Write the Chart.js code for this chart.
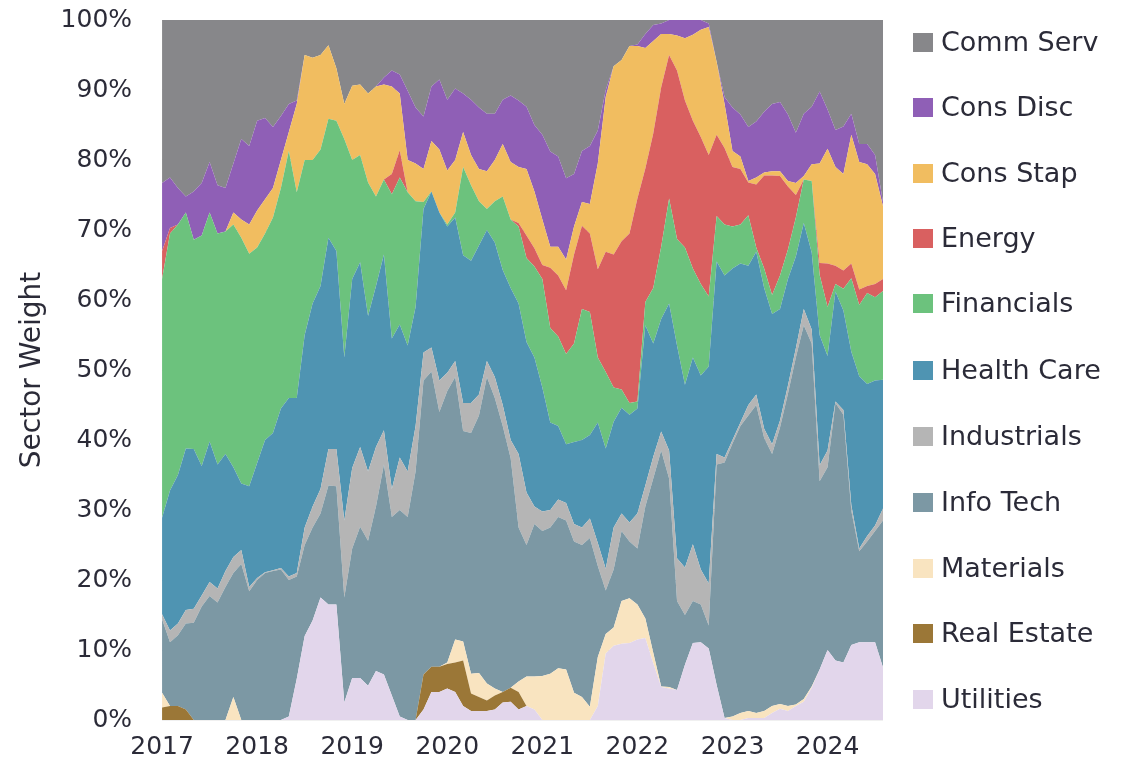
<!DOCTYPE html>
<html>
<head>
<meta charset="utf-8">
<script src="https://cdn.jsdelivr.net/npm/chart.js@4.4.1/dist/chart.umd.min.js"></script>
<style>
  html, body { margin: 0; padding: 0; background: #fff; }
  #wrap { position: relative; width: 1132px; height: 776px; }
  #legend { position: absolute; left: 913px; top: 0; font-family: "DejaVu Sans", sans-serif; font-size: 27px; color: #2b2b38; }
  .item { position: absolute; left: 0; height: 32px; line-height: 32px; display: flex; align-items: center; white-space: nowrap; }
  .sw { width: 20px; height: 19px; margin-right: 8px; flex: none; }
</style>
</head>
<body>
<div id="wrap">
  <canvas id="chart" width="1132" height="776"></canvas>
  <div id="legend"></div>
</div>
<script>
// --- Data (monthly, Jan 2017 .. Aug 2024, % weight) ---
const years = ['2017', '2018', '2019', '2020', '2021', '2022', '2023', '2024'];

const utilities = [0,0,0,0,0,0,0,0,0,0, 0,0,0,0,0,0,0.5,5.9,12,14.2, 17.5,16.5,16.5,2.5,6,6,4.9,7,6.5,3.5,
  0.5,0,0,1.5,4,4,4.5,4,2,1.3, 1.3,1.3,1.5,2.5,2.6,1.5,2,1.5,0,0, 0,0,0,0,0,2,9.5,10.6,10.9,11,
  11.5,11.7,8.1,4.7,4.5,4.3,7.9,11,11.1,10.2, 5,0.3,0,0,0.3,0.3,0.3,1,1.6,1.3, 2,2.6,4.6,7.2,10,8.5,8.2,10.7,11.1,11.1, 11.1,7.5];
const realEstate = [1.8,2,2,1.5,0,0,0,0,0,0, 0,0,0,0,0,0,0,0,0,0, 0,0,0,0,0,0,0,0,0,0,
  0,0,0,5,3.6,3.6,3.5,4.2,6.5,2.5, 2,1.5,2,1.5,2,2.5,0,0,0,0, 0,0,0,0,0,0,0,0,0,0,
  0,0,0,0,0,0,0,0,0,0, 0,0,0,0,0,0,0,0,0,0, 0,0,0,0,0,0,0,0,0,0, 0,0];
const materials = [2.1,0,0,0,0,0,0,0,0,3.3, 0,0,0,0,0,0,0,0,0,0, 0,0,0,0,0,0,0,0,0,0,
  0,0,0,0,0,0,0.2,3.3,2.7,2.8, 3.4,2.4,1,0,0,1.5,4.2,4.7,6.3,6.6, 7.4,7.2,3.9,3.3,1.9,7,2.8,2.6,6.1,6.4,
  5,2.8,1.5,0.1,0.2,0,0,0,0,0, 0,0,0.5,1,1,0.7,1,1,0.7,0.7, 0.2,0.4,0.2,0,0,0,0,0,0,0, 0,0];
const infoTech = [10.5,9.1,10.1,12.3,13.9,16.2,17.7,16.8,19,17.7, 22.3,18.4,20,21,21.3,21.5,19.5,14.6,13,13.3,
  12,17,16.9,15,18.5,21.6,20.7,23.5,30,25.5, 29.5,29,35.5,42,42.2,36.4,38.8,37.5,30.1,34.4,
  36.8,43.8,41.5,38,32.8,22,18.8,21.8,20.7,20.9, 21.6,21.3,21.6,21.7,24.1,13,6.2,8.3,10,8.1,
  8,16,24.9,33.7,29.8,12.7,7.1,6,5.4,3.3, 31.5,36.5,39,41,42.2,44,39,36,39.5,44.6,
  49.6,53.4,49,26.9,26.1,36.8,35.4,19.2,13,14.4, 15.9,21];
const industrials = [0.7,1.7,1.7,1.9,2,1.6,2,2,2.3,2.3, 2,0.6,0.3,0.1,0.1,0.2,0.5,0.5,2.5,3,
  3.5,5.2,5.3,11,11.5,11.4,9.9,8.5,4.9,4, 7.5,6.5,6.5,4,3.4,4.5,2.6,2.3,4,4.3,
  3,2.3,3,3,2.6,10.5,7.5,2.5,2.8,2.5, 2.5,2.5,2.5,2.5,2.8,3.3,3.1,6,2.5,2.7,
  5,3,3.1,2.7,4,6.1,6.8,8.1,5,6, 1.5,0.7,0.5,0.5,1.5,1.5,1.3,1.4,1,1.2,
  1.3,2.3,2,2.3,2.4,0.2,0.7,0.8,0.4,0.8, 0.8,1.7];
const healthCare = [13.8,20,21.2,23.1,22.8,18.5,20.1,17.7,16.7,12.8, 9.5,14.4,16.4,18.9,19.6,22.8,25.5,25,27.5,29,
  29,30.2,28.3,23.3,27,26.4,22.2,23,25.1,21.5, 19,18,17,20.5,22.3,24,20.9,20.5,21.1,20.3,
  21.3,18.7,19.2,19.3,21.7,21.5,21.5,21.3,17.7,12.5, 10.5,8.4,11.7,12.5,11.9,17.2,17.2,15.1,15.1,15.4,
  15,22.9,16.2,16.1,21,30.4,26.1,26.7,27.7,31, 27.5,26,24.5,22.7,19.9,20.4,20.1,18.6,15.9,15.2,
  13.1,12.3,11,18.6,13.5,15.7,14.2,21.9,24.6,21.7, 20.7,18.4];
const financials = [34.1,36.7,35.8,33.7,29.9,32.9,32.7,33,31.8,34.7, 35.1,33.2,30.8,29.5,30.8,31.5,35.3,29.4,25,20.5,
  19.5,17,18.6,31.2,17,15.3,19.1,12.8,10.7,20.6, 21,21.9,15.1,1,0,0,0.3,0.7,12.6,10.8,
  6.3,3,5.9,10.5,9.8,11,12,13,15.5,13.5, 12.8,12.9,14.1,18.7,17.6,9.3,10.9,4.9,2.6,1.7,
  1,3.3,7.9,10.3,15,15.2,19.6,12.7,13.1,10, 6.5,7.3,6,5.6,7.2,0.6,2.8,2.7,4.8,4.2,
  5.6,6.2,10.2,8.6,7,1.1,3.1,10.5,10.2,13, 11.9,12.7];
const energy = [4,0.8,0,0,0,0,0,0,0,0, 0,0,0,0,0,0,0,0,0,0, 0,0,0,0,0,0,0,0,0,2.9,
  3.9,0,0,0,0,0,0,0,0,0, 0,0,0,0,0,0.5,3.2,2.6,2,8.6, 8.7,9.1,12.7,11.9,11.2,12.6,17.2,19,21.2,24.2,
  29,19.1,22.1,22.8,20.5,24.1,21,21.1,21,20.2, 11.6,10.9,8.5,7.9,4.7,9,13.3,17.1,14.2,9,
  3.2,0,0,1.7,6.2,2.6,2.6,2.1,2.2,1, 1.9,1.7];
const consStap = [0,0,0,0,0,0,0,0,0,1.7, 2.6,4.2,5.3,4.9,4.2,4,2.7,12.6,15,14.6,
  13.5,10.5,7.5,5,10.6,10.1,12.7,15.7,13.6,12.5, 8.1,4.6,5.4,4.7,7.2,9,7.7,7.5,5,4.3,
  4.6,5.4,5.9,7.5,8.2,8,9.5,8.1,6.5,3, 4.1,4.4,4,3.4,4.2,15.1,22.1,26.9,25.9,26.8,
  21.8,17.2,13.2,7.6,3,5,8.9,12.3,15.3,18.3, 10.4,6.3,2.3,1.8,0.2,1,0.4,0.6,0.7,0.8,
  1.7,0.5,2.4,14.2,16.4,14.1,13.8,18.4,18.2,17.4, 15.7,10.4];
const consDisc = [9.7,7.2,5.2,2.3,6.9,7.5,7.2,6.9,6.2,7, 11.5,11.2,12.8,11.6,8.7,6.3,4,0.5,0,0,
  0,0,0,0,0,0,0,0,1,2.3, 2.7,9.9,8,7.5,7.8,10,10.1,10.2,5.5,7.9,
  8.8,8.2,6.6,6.3,9.5,9.5,8.9,9.5,12.1,13.6, 12.9,11.6,7.5,7.3,8.3,4.7,1,0,0,0,
  0.2,2,2.3,1.5,2,2.2,2.6,2.1,1.4,0.5, 0,1,6.2,6,7.7,8,8.7,9.6,9.9,9.5,
  7.2,8.9,8.2,10.3,5.6,5.3,6.8,3,2.6,2.9, 2.7,0.6];
const commServ = [23.3,22.5,24,25.2,24.5,23.3,20.3,23.6,24,20.5, 17,18,14.4,14,15.3,13.7,12,11.5,5,5.4,
  5,3.6,6.9,12,9.4,9.2,10.5,9.5,8.2,7.2, 7.8,10.1,12.5,13.8,9.5,8.5,11.4,9.8,10.5,11.4,
  12.5,13.4,13.4,11.4,10.8,11.5,12.4,15,16.4,18.8, 19.5,22.6,22,18.7,18,15.8,10,6.6,5.7,3.7,
  3.5,2,0.7,0.5,0,0,0,0,0,0.5, 6,11,12.5,13.5,15.3,14.5,13.1,12,11.7,13.5,
  16.1,13.4,12.4,10.2,12.8,15.7,15.2,13.4,17.7,17.7, 19.3,26];

// bottom of the stack first
const sectorNames = ['Utilities', 'Real Estate', 'Materials', 'Info Tech', 'Industrials', 'Health Care',
  'Financials', 'Energy', 'Cons Stap', 'Cons Disc', 'Comm Serv'];
const sectorValues = [utilities, realEstate, materials, infoTech, industrials, healthCare,
  financials, energy, consStap, consDisc, commServ];
const sectorColors = ['#e2d6eb', '#9b7737', '#f9e4c0', '#7c98a4', '#b5b5b5', '#4f94b2',
  '#6cc27d', '#d96060', '#f1bd60', '#8f5fb6', '#87878a'];

// month labels, tick shown only at January
const monthLabels = [];
years.forEach(y => {
  for (let mo = 1; mo <= 12; mo++) monthLabels.push(y + '-' + String(mo).padStart(2, '0'));
});
monthLabels.length = utilities.length;

const textColor = '#2b2b38';
const fontFamily = '"DejaVu Sans", sans-serif';

new Chart(document.getElementById('chart'), {
  type: 'line',
  data: {
    labels: monthLabels,
    datasets: sectorNames.map((name, i) => ({
      label: name,
      data: sectorValues[i],
      backgroundColor: sectorColors[i],
      borderColor: 'transparent',
      borderWidth: 0,
      pointRadius: 0,
      tension: 0,
      fill: i === 0 ? 'origin' : '-1'
    }))
  },
  options: {
    responsive: false,
    animation: false,
    layout: { padding: { left: 16, right: 249, top: 20, bottom: 2 } },
    plugins: {
      legend: { display: false },
      tooltip: { enabled: false }
    },
    scales: {
      x: {
        grid: { display: false, drawTicks: false },
        border: { display: false },
        ticks: {
          autoSkip: false, maxRotation: 0, minRotation: 0, padding: 12,
          color: textColor, font: { family: fontFamily, size: 25 },
          callback: function (v) {
            const lab = this.getLabelForValue(v);
            return lab.endsWith('-01') ? lab.slice(0, 4) : '';
          }
        }
      },
      y: {
        stacked: true,
        min: 0, max: 100,
        z: 1,
        // tick padding would otherwise also push the plot top down
        afterFit: scale => { scale.paddingTop = 0; },
        grid: {
          color: ctx => ctx.tick && (ctx.tick.value === 100 || ctx.tick.value === 0) ? 'rgba(0,0,0,0.06)' : 'rgba(0,0,0,0.17)',
          drawTicks: false
        },
        border: { display: false },
        ticks: {
          stepSize: 10, padding: 30,
          color: textColor, font: { family: fontFamily, size: 25 },
          callback: v => v + '%'
        },
        title: {
          display: true, text: 'Sector Weight', color: textColor,
          font: { family: fontFamily, size: 28 },
          padding: { top: 0, bottom: -19 }
        }
      }
    }
  }
});

// --- Legend (top of stack first) ---
const legendEl = document.getElementById('legend');
const legendCenters = [42, 107, 173, 238, 303, 370, 436, 502, 568, 633, 699];
sectorNames.slice().reverse().forEach((name, i) => {
  const item = document.createElement('div');
  item.className = 'item';
  item.style.top = (legendCenters[i] - 16) + 'px';
  const sw = document.createElement('span');
  sw.className = 'sw';
  sw.style.background = sectorColors[sectorNames.length - 1 - i];
  item.appendChild(sw);
  item.appendChild(document.createTextNode(name));
  legendEl.appendChild(item);
});
</script>
</body>
</html>
